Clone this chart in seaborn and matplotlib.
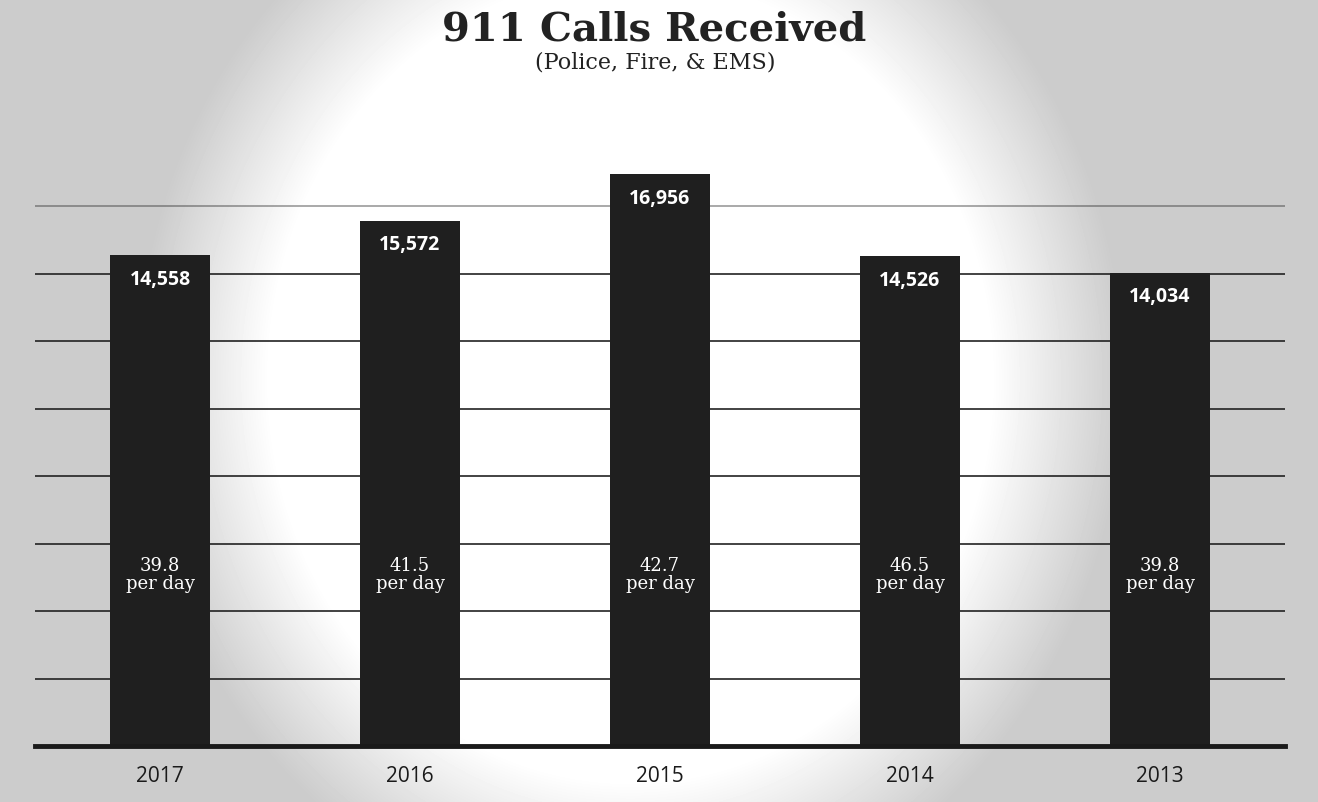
import numpy as np
import pandas as pd
import matplotlib
matplotlib.use("Agg")
import matplotlib.pyplot as plt
import seaborn as sns

# chart data
years = ["2017", "2016", "2015", "2014", "2013"]
calls = [14558, 15572, 16956, 14526, 14034]
per_day = [39.8, 41.5, 42.7, 46.5, 39.8]
grid_values = [2000, 4000, 6000, 8000, 10000, 12000, 14000, 16000]

df = pd.DataFrame({"year": years, "calls": calls, "per_day": per_day})

sns.set_theme(style="white")
plt.rcParams["font.family"] = ["DejaVu Sans"]

W, H = 1318, 803
fig = plt.figure(figsize=(W / 100, H / 100), dpi=100)

# scanned-look background: gray with a soft white glow in the middle
bg = fig.add_axes([0, 0, 1, 1], zorder=0)
yy, xx = np.mgrid[0:H, 0:W]
r = np.sqrt(((xx - 630) / 440.0) ** 2 + ((yy - 380) / 490.0) ** 2)
shade = np.clip((r - 0.82) / 0.3, 0, 1)
img = 1.0 - 0.2 * shade
bg.imshow(img, cmap="gray", vmin=0, vmax=1, aspect="auto", interpolation="bilinear")
bg.axis("off")

ax = fig.add_axes([35 / W, (H - 747) / H, 1250 / W, (747 - 140) / H], zorder=1)
ax.patch.set_alpha(0)

for g in grid_values:
    ax.axhline(g, color="#222222", lw=1.2, zorder=0,
               alpha=0.45 if g == 16000 else 1.0)

sns.barplot(data=df, x="year", y="calls", color="#1f1f1f", width=0.4,
            saturation=1, edgecolor="#1f1f1f", linewidth=0, ax=ax, zorder=2)

ax.set_xlim(-0.5, len(years) - 0.5)
ax.set_ylim(0, 18000)
ax.set_yticks([])
ax.set_xlabel("")
ax.set_ylabel("")
for s in ["top", "right", "left"]:
    ax.spines[s].set_visible(False)
ax.spines["bottom"].set_color("#1a1a1a")
ax.spines["bottom"].set_linewidth(3.5)
ax.tick_params(axis="x", length=0, pad=14)
ax.set_xticks(range(len(years)))
ax.set_xticklabels(years, fontsize=15, color="#1a1a1a", family="Open Sans")

for i, (c, p) in enumerate(zip(calls, per_day)):
    ax.text(i, c - 700, f"{c:,}", ha="center", va="center", color="white",
            fontsize=14, fontweight="bold", family="Open Sans", zorder=3)
    ax.text(i, 5100, f"{p}\nper day", ha="center", va="center", color="white",
            fontsize=13, family="DejaVu Serif", linespacing=1.05, zorder=3)

fig.text(0.496, 0.963, "911 Calls Received", ha="center", va="center",
         fontsize=29, fontweight="bold", family="DejaVu Serif", color="#222222")
fig.text(0.497, 0.922, "(Police, Fire, & EMS)", ha="center", va="center",
         fontsize=16, family="DejaVu Serif", color="#222222")

fig.savefig("out.png", dpi=100)
